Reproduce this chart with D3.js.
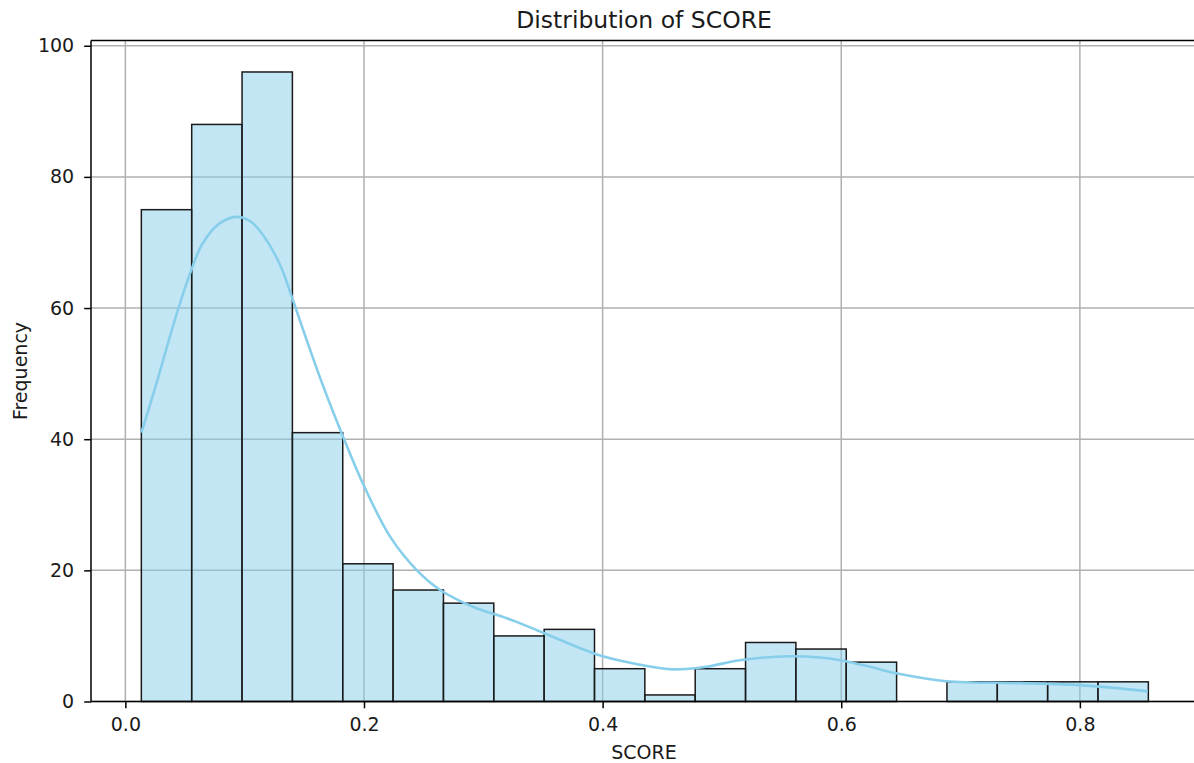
<!DOCTYPE html>
<html>
<head>
<meta charset="utf-8">
<script src="https://cdn.jsdelivr.net/npm/d3@7"></script>
<style>
  html, body { margin: 0; padding: 0; background: #fff; }
  svg { display: block; font-family: "DejaVu Sans", sans-serif; }
</style>
</head>
<body>
<svg id="chart" width="1194" height="763"></svg>
<script>
// Histogram of SCORE: 20 equal-width bins between binLow and binHigh
const binLow = 0.0134;
const binHigh = 0.8574;
const counts = [75, 88, 96, 41, 21, 17, 15, 10, 11, 5, 1, 5, 9, 8, 6, 0, 3, 3, 3, 3];

// Kernel density estimate (scaled to counts), sampled along SCORE
const kdeX = [0.0134, 0.0251, 0.0363, 0.0447, 0.0545, 0.0643, 0.0782, 0.093, 0.105, 0.1159,
              0.1299, 0.1397, 0.1522, 0.1662, 0.1822, 0.1997, 0.222, 0.2444, 0.2639, 0.2918,
              0.3198, 0.346, 0.398, 0.4315, 0.459, 0.487, 0.515, 0.557, 0.582, 0.599,
              0.624, 0.646, 0.688, 0.75, 0.80, 0.857];
const kdeY = [41, 47.9, 55, 60.1, 65.4, 69.7, 72.8, 73.9, 73.2, 71.0,
              66.5, 61.6, 55, 47.9, 40.5, 33, 25.1, 20, 17, 14.4,
              12.7, 10.8, 7.0, 5.6, 4.9, 5.3, 6.3, 6.9, 6.7, 6.3,
              5.3, 4.3, 3.1, 2.8, 2.5, 1.55];

const xTicks = [0.0, 0.2, 0.4, 0.6, 0.8];
const yTicks = [0, 20, 40, 60, 80, 100];

const svg = d3.select("#chart");
const plotL = 91, plotR = 1198.7, plotT = 40.5, plotB = 701.5;
const lw = 1.5;

const binW = (binHigh - binLow) / counts.length;
const bins = counts.map((c, i) => ({ x0: binLow + i * binW, x1: binLow + (i + 1) * binW, n: c }));

const pad = (binHigh - binLow) * 0.05;
const x = d3.scaleLinear().domain([binLow - pad, binHigh + pad]).range([plotL, plotR]);
const y = d3.scaleLinear().domain([0, d3.max(counts) * 1.05]).range([plotB, plotT]);

// grid
const grid = svg.append("g").attr("stroke", "#b0b0b0").attr("stroke-width", lw);
xTicks.forEach(t => grid.append("line")
  .attr("x1", x(t)).attr("x2", x(t)).attr("y1", plotT).attr("y2", plotB));
yTicks.forEach(t => grid.append("line")
  .attr("x1", plotL).attr("x2", plotR).attr("y1", y(t)).attr("y2", y(t)));

// bars
svg.append("g").selectAll("rect").data(bins.filter(b => b.n > 0)).join("rect")
  .attr("x", d => x(d.x0))
  .attr("y", d => y(d.n))
  .attr("width", d => x(d.x1) - x(d.x0))
  .attr("height", d => y(0) - y(d.n))
  .attr("fill", "#87ceeb")
  .attr("fill-opacity", 0.5)
  .attr("stroke", "#1a1a1a")
  .attr("stroke-width", 1.5);

// density curve
const kde = kdeX.map((v, i) => [v, kdeY[i]]);
svg.append("path")
  .datum(kde)
  .attr("fill", "none")
  .attr("stroke", "#87ceeb")
  .attr("stroke-width", 2.6)
  .attr("d", d3.line().x(d => x(d[0])).y(d => y(d[1])).curve(d3.curveCatmullRom.alpha(0.5)));

// axes
const xAxis = svg.append("g").attr("transform", `translate(0,${plotB})`)
  .call(d3.axisBottom(x).tickValues(xTicks).tickFormat(d3.format(".1f")).tickSize(6.8).tickPadding(9));
const yAxis = svg.append("g").attr("transform", `translate(${plotL},0)`)
  .call(d3.axisLeft(y).tickValues(yTicks).tickFormat(d3.format("d")).tickSize(6.8).tickPadding(10));
[xAxis, yAxis].forEach(a => {
  a.select(".domain").remove();
  a.selectAll("line").attr("stroke", "#000").attr("stroke-width", lw);
  a.selectAll("text").attr("font-family", "DejaVu Sans").attr("font-size", 19).attr("fill", "#1a1a1a");
});

// spines
const sp = svg.append("g").attr("stroke", "#000").attr("stroke-width", lw).attr("fill", "none");
sp.append("line").attr("x1", plotL).attr("x2", plotL).attr("y1", plotT).attr("y2", plotB);
sp.append("line").attr("x1", plotL).attr("x2", plotR).attr("y1", plotB).attr("y2", plotB);
sp.append("line").attr("x1", plotL).attr("x2", plotR).attr("y1", plotT).attr("y2", plotT);
sp.append("line").attr("x1", plotR).attr("x2", plotR).attr("y1", plotT).attr("y2", plotB);

// labels
svg.append("text").attr("x", 644).attr("y", 27.5)
  .attr("text-anchor", "middle").attr("font-size", 23.5).attr("fill", "#1a1a1a").text("Distribution of SCORE");
svg.append("text").attr("x", 644).attr("y", 759)
  .attr("text-anchor", "middle").attr("font-size", 19).attr("fill", "#1a1a1a").text("SCORE");
svg.append("text").attr("transform", `translate(26.5,${(plotT + plotB) / 2}) rotate(-90)`)
  .attr("text-anchor", "middle").attr("font-size", 19).attr("fill", "#1a1a1a").text("Frequency");
</script>
</body>
</html>
